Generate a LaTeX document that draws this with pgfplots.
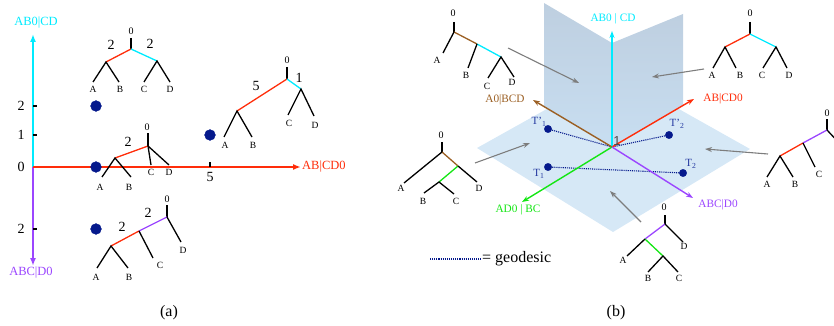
\documentclass[border=0pt]{standalone}
\usepackage{pgfplots}
\pgfplotsset{compat=1.18}
\usepackage{fontspec}
\setmainfont{Liberation Serif}
\setsansfont{Liberation Sans}
\usetikzlibrary{arrows.meta}

\definecolor{ccyan}{RGB}{0,235,255}
\definecolor{cred}{RGB}{255,45,10}
\definecolor{cpurple}{RGB}{155,70,255}
\definecolor{cgreen}{RGB}{20,230,20}
\definecolor{cbrown}{RGB}{155,95,35}
\definecolor{cnavy}{RGB}{5,25,140}
\definecolor{tnavy}{RGB}{35,55,160}
\definecolor{cgray}{RGB}{125,125,125}
\definecolor{hplane}{RGB}{214,232,246}
\definecolor{vtop}{RGB}{190,207,224}
\definecolor{vbot}{RGB}{200,222,241}

\tikzset{
  leaf/.style={font=\fontsize{9.5}{10}\selectfont, inner sep=0pt},
  root/.style={font=\fontsize{10}{10}\selectfont, inner sep=0pt},
  wt/.style={font=\fontsize{14}{14}\selectfont, inner sep=0pt},
  axlab/.style={font=\fontsize{12.5}{13}\selectfont, inner sep=0pt},
  baxlab/.style={font=\fontsize{11.3}{12}\selectfont, inner sep=0pt},
  tlab/.style={font=\fontsize{11}{12}\selectfont, inner sep=0pt, text=tnavy},
}
\pgfplotsset{
  tree/.style={black, line width=1.3pt},
  branch/.style={line width=1.3pt},
  aaxis/.style={line width=1.6pt, -{Latex[length=8pt,width=6pt]}},
  baxis/.style={line width=1.4pt, -{Stealth[length=7pt,width=5pt]}},
  garrow/.style={cgray, line width=1.1pt, -{Stealth[length=7pt,width=5pt]}},
  geo/.style={cnavy, densely dotted, line width=1.1pt},
}

\begin{document}
\begin{tikzpicture}
\begin{axis}[name=main, scale only axis, width=834pt, height=326pt,
  xmin=0, xmax=834, ymin=0, ymax=326, y dir=reverse,
  hide axis, clip=false]

%% ---------------- panel (a): split-coordinate axes ----------------
\addplot[aaxis, ccyan]   coordinates {(33,167) (33,34)};
\addplot[aaxis, cpurple] coordinates {(33,167) (33,266)};
\addplot[aaxis, cred]    coordinates {(33,167) (301,167)};
\node[axlab, ccyan]   at (axis cs:36,23)  {AB0|CD};
\node[axlab, cpurple] at (axis cs:31,273) {ABC|D0};
\node[axlab, cred, anchor=west] at (axis cs:302,167) {AB|CD0};

% ticks
\addplot[black, line width=1.2pt] coordinates {(33,106) (37,106)};
\addplot[black, line width=1.2pt] coordinates {(33,135) (37,135)};
\addplot[black, line width=1.2pt] coordinates {(33,229) (37,229)};
\addplot[black, line width=1.2pt] coordinates {(210,162) (210,167)};
\node[wt] at (axis cs:21,106) {2};
\node[wt] at (axis cs:21,135) {1};
\node[wt] at (axis cs:21,167) {0};
\node[wt] at (axis cs:21,229) {2};
\node[wt] at (axis cs:210,177) {5};

% tree points
\addplot[only marks, mark=*, mark size=5.4pt, cnavy]
  coordinates {(96,106) (96,167) (210,135) (96,229)};

% tree (2,2)
\addplot[tree] coordinates {(131,38) (131,49)};
\addplot[branch, cred]  coordinates {(131,49) (106,62)};
\addplot[branch, ccyan] coordinates {(131,49) (157,61)};
\addplot[tree] coordinates {(93,82) (106,62) (119,82)};
\addplot[tree] coordinates {(144,82) (157,61) (170,82)};
\node[root] at (axis cs:131,31) {0};
\node[leaf] at (axis cs:93,89) {A};
\node[leaf] at (axis cs:120,89) {B};
\node[leaf] at (axis cs:144,89) {C};
\node[leaf] at (axis cs:170,89) {D};
\node[wt] at (axis cs:111,45) {2};
\node[wt] at (axis cs:150,44) {2};

% tree (5,1)
\addplot[tree] coordinates {(287,67) (287,79)};
\addplot[branch, cred]  coordinates {(287,79) (237,111)};
\addplot[branch, ccyan] coordinates {(287,79) (301,89)};
\addplot[tree] coordinates {(224,137) (237,111) (252,137)};
\addplot[tree] coordinates {(288,115) (301,89) (314,116)};
\node[root] at (axis cs:287,60) {0};
\node[leaf] at (axis cs:225,145) {A};
\node[leaf] at (axis cs:253,145) {B};
\node[leaf] at (axis cs:289,123) {C};
\node[leaf] at (axis cs:315,125) {D};
\node[wt] at (axis cs:256,86) {5};
\node[wt] at (axis cs:299,78) {1};

% tree (2,0)
\addplot[tree] coordinates {(148,133) (148,146)};
\addplot[branch, cred] coordinates {(148,146) (115,158)};
\addplot[tree] coordinates {(102,177) (115,158) (131,177)};
\addplot[tree] coordinates {(151,165) (148,146) (169,165)};
\node[root] at (axis cs:147,127) {0};
\node[leaf] at (axis cs:100,187) {A};
\node[leaf] at (axis cs:129,187) {B};
\node[leaf] at (axis cs:151,172) {C};
\node[leaf] at (axis cs:169,172) {D};
\node[wt] at (axis cs:128,142) {2};

% tree (2,2) in the ABC|D0 quadrant
\addplot[tree] coordinates {(167,205) (167,217)};
\addplot[branch, cpurple] coordinates {(167,217) (139,231)};
\addplot[branch, cred]    coordinates {(139,231) (111,246)};
\addplot[tree] coordinates {(167,217) (181,242)};
\addplot[tree] coordinates {(139,231) (153,258)};
\addplot[tree] coordinates {(97,268) (111,246) (128,268)};
\node[root] at (axis cs:167,199) {0};
\node[leaf] at (axis cs:183,250) {D};
\node[leaf] at (axis cs:160,265) {C};
\node[leaf] at (axis cs:96,277) {A};
\node[leaf] at (axis cs:129,277) {B};
\node[wt] at (axis cs:122,227) {2};
\node[wt] at (axis cs:148,213) {2};

\node[font=\fontsize{16}{16}\selectfont, inner sep=0pt] at (axis cs:169,313) {(a)};

%% ---------------- panel (b): orthants glued along an axis ----------------
\addplot[draw=none, fill=hplane] coordinates {(477,148) (613,72) (750,149) (613,232)} -- cycle;
\addplot[draw=none, top color=vtop, bottom color=vbot]
  coordinates {(544,3) (612,43) (612,147) (544,107)} -- cycle;
\addplot[draw=none, top color=vtop, bottom color=vbot]
  coordinates {(612,43) (683,14) (683,106) (612,147)} -- cycle;

% geodesics
\addplot[geo] coordinates {(548,129) (612,147)};
\addplot[geo] coordinates {(669,135) (612,147)};
\addplot[geo] coordinates {(548,167) (683,173)};

% split axes
\addplot[baxis, ccyan]   coordinates {(612,147) (612,31)};
\addplot[baxis, cred]    coordinates {(612,147) (694,99)};
\addplot[baxis, cbrown]  coordinates {(612,147) (533,100)};
\addplot[baxis, cgreen]  coordinates {(612,147) (522,202)};
\addplot[baxis, cpurple] coordinates {(612,147) (693,198)};
\node[baxlab, ccyan]   at (axis cs:613,19)  {AB0 | CD};
\node[baxlab, cred]    at (axis cs:723,99)  {AB|CD0};
\node[baxlab, cbrown]  at (axis cs:505,100) {A0|BCD};
\node[baxlab, cgreen]  at (axis cs:518,210) {AD0 | BC};
\node[baxlab, cpurple] at (axis cs:718,205) {ABC|D0};
\node[inner sep=0pt, text=black!70, font=\sffamily\fontsize{13}{13}\selectfont] at (axis cs:617,141) {1};

% tree points
\addplot[only marks, mark=*, mark size=3.7pt, cnavy]
  coordinates {(548,129) (669,135) (548,167) (683,173)};
\node[tlab] at (axis cs:539,122) {T’\textsubscript{1}};
\node[tlab] at (axis cs:677,124) {T’\textsubscript{2}};
\node[tlab] at (axis cs:539,174) {T\textsubscript{1}};
\node[tlab] at (axis cs:691,164) {T\textsubscript{2}};

% pointers from trees to orthants
\addplot[garrow] coordinates {(508,48) (579,83)};
\addplot[garrow] coordinates {(704,69) (652,77)};
\addplot[garrow] coordinates {(475,163) (530,143)};
\addplot[garrow] coordinates {(768,154) (705,149)};
\addplot[garrow] coordinates {(641,222) (610,191)};

% tree in A0|BCD x AB0|CD
\addplot[tree] coordinates {(454,22) (454,32)};
\addplot[branch, cbrown] coordinates {(454,32) (477,44)};
\addplot[branch, ccyan]  coordinates {(477,44) (501,57)};
\addplot[tree] coordinates {(454,32) (443,53)};
\addplot[tree] coordinates {(477,44) (468,68)};
\addplot[tree] coordinates {(488,78) (501,57) (514,77)};
\node[root] at (axis cs:453,13) {0};
\node[leaf] at (axis cs:437,60) {A};
\node[leaf] at (axis cs:466,75) {B};
\node[leaf] at (axis cs:487,86) {C};
\node[leaf] at (axis cs:512,82) {D};

% tree in AB|CD0 x AB0|CD
\addplot[tree] coordinates {(750,22) (750,34)};
\addplot[branch, cred]  coordinates {(750,34) (725,47)};
\addplot[branch, ccyan] coordinates {(750,34) (776,47)};
\addplot[tree] coordinates {(713,68) (725,47) (736,68)};
\addplot[tree] coordinates {(763,68) (776,47) (787,68)};
\node[root] at (axis cs:750,13) {0};
\node[leaf] at (axis cs:712,75) {A};
\node[leaf] at (axis cs:740,75) {B};
\node[leaf] at (axis cs:762,75) {C};
\node[leaf] at (axis cs:789,75) {D};

% tree in AB|CD0 x ABC|D0
\addplot[tree] coordinates {(827,119) (827,130)};
\addplot[branch, cpurple] coordinates {(827,130) (803,143)};
\addplot[branch, cred]    coordinates {(803,143) (780,156)};
\addplot[tree] coordinates {(827,130) (841,145)};
\addplot[tree] coordinates {(803,143) (815,167)};
\addplot[tree] coordinates {(767,177) (780,156) (793,177)};
\node[root] at (axis cs:827,113) {0};
\node[leaf] at (axis cs:819,174) {C};
\node[leaf] at (axis cs:767,184) {A};
\node[leaf] at (axis cs:795,184) {B};

% tree in ABC|D0 x AD0|BC
\addplot[tree] coordinates {(665,215) (665,224)};
\addplot[branch, cpurple] coordinates {(665,224) (645,239)};
\addplot[branch, cgreen]  coordinates {(645,239) (663,256)};
\addplot[tree] coordinates {(665,224) (683,242)};
\addplot[tree] coordinates {(645,239) (627,256)};
\addplot[tree] coordinates {(648,272) (663,256) (678,272)};
\node[root] at (axis cs:664,207) {0};
\node[leaf] at (axis cs:684,246) {D};
\node[leaf] at (axis cs:623,260) {A};
\node[leaf] at (axis cs:648,278) {B};
\node[leaf] at (axis cs:679,278) {C};

% tree in A0|BCD x AD0|BC
\addplot[tree] coordinates {(442,142) (442,152)};
\addplot[branch, cbrown] coordinates {(442,152) (458,166)};
\addplot[branch, cgreen] coordinates {(458,166) (439,182)};
\addplot[tree] coordinates {(442,152) (404,183)};
\addplot[tree] coordinates {(458,166) (477,182)};
\addplot[tree] coordinates {(424,193) (439,182) (454,194)};
\node[root] at (axis cs:441,135) {0};
\node[leaf] at (axis cs:401,188) {A};
\node[leaf] at (axis cs:479,188) {D};
\node[leaf] at (axis cs:423,201) {B};
\node[leaf] at (axis cs:456,201) {C};

% legend
\addplot[geo] coordinates {(430,259) (481,259)};
\node[anchor=west, inner sep=0pt, font=\fontsize{16}{16}\selectfont] at (axis cs:482,259) {= geodesic};

\node[font=\fontsize{16}{16}\selectfont, inner sep=0pt] at (axis cs:616,313) {(b)};
\end{axis}
\pgfresetboundingbox
\path (main.south west) rectangle (main.north east);
\end{tikzpicture}
\end{document}
